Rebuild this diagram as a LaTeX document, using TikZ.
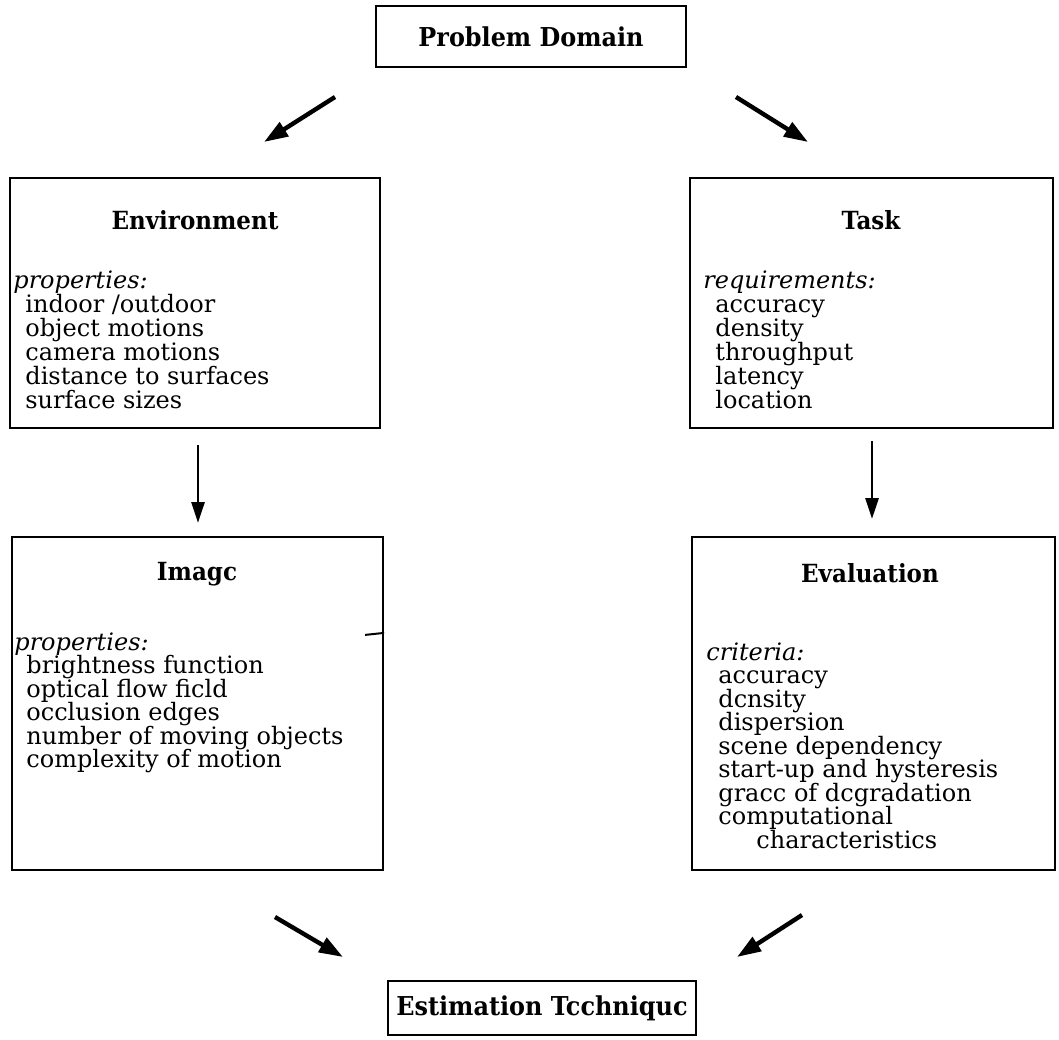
\documentclass[tikz,border=0pt]{standalone}
\usepackage{fontspec}
\setmainfont{DejaVu Serif}
\newfontfamily\headfont[FakeStretch=0.92]{DejaVu Serif}
\usetikzlibrary{arrows.meta,fit,calc}

\tikzset{
  box/.style={draw, line width=1.1pt, inner sep=0pt},
  boxtitle/.style={font=\headfont\bfseries\fontsize{12.5}{14}\selectfont, inner sep=0pt},
  headtitle/.style={font=\headfont\bfseries\fontsize{13}{15}\selectfont, inner sep=0pt},
  lbl/.style={font=\itshape\fontsize{12}{12}\selectfont, anchor=base west, inner sep=0pt},
  entry/.style={font=\fontsize{12}{12}\selectfont, anchor=base west, inner sep=0pt},
  flow/.style={line width=2.2pt, -{Triangle[length=12pt,width=8pt]}},
  drop/.style={line width=1.4pt, -{Triangle[length=10.5pt,width=6.5pt]}},
}

\begin{document}
\begin{tikzpicture}[x=0.5pt,y=-0.5pt]
  \fill[white] (0,0) rectangle (1059,1039);
  \useasboundingbox (0,0) rectangle (1059,1039);

  % top and bottom boxes
  \node[box, fit={(376,6) (686,67)}] (pd) {};
  \node[headtitle] (pd-t) at (531,37) {Problem Domain};
  \node[box, fit={(388,981) (696,1035)}] (est) {};
  \node[headtitle] (est-t) at (542,1008) {Estimation Tcchniquc};

  % Environment
  \node[box, fit={(10,178) (380,428)}] (env) {};
  \node[boxtitle] (env-t) at (195,220) {Environment};
  \node[lbl] (env-l) at (13,288) {properties:};
  \foreach \t [count=\i] in {indoor /outdoor, object motions, camera motions,
      distance to surfaces, surface sizes}
    \node[entry] (env-\i) at (25,{288+24*\i}) {\t};

  % Task
  \node[box, fit={(690,178) (1053,428)}] (task) {};
  \node[boxtitle] (task-t) at (871,220) {Task};
  \node[lbl] (task-l) at (703,288) {requirements:};
  \foreach \t [count=\i] in {accuracy, density, throughput, latency, location}
    \node[entry] (task-\i) at (715,{288+24*\i}) {\t};

  % Image
  \node[box, fit={(12,537) (383,870)}] (img) {};
  \node[boxtitle] (img-t) at (197,574) {Imagc};
  \node[lbl] (img-l) at (14,650) {properties:};
  \foreach \t [count=\i] in {brightness function, optical flow ficld, occlusion edges,
      number of moving objects, complexity of motion}
    \node[entry] (img-\i) at (26,{650+23.5*\i}) {\t};
  \draw[line width=1pt] ($(img.north east)+(-19,99)$) coordinate (tick-a)
    -- ($(img.north east)+(0,97)$) coordinate (tick-b);

  % Evaluation
  \node[box, fit={(692,537) (1055,870)}] (eval) {};
  \node[boxtitle] (eval-t) at (870,573) {Evaluation};
  \node[lbl] (eval-l) at (706,660) {criteria:};
  \foreach \t [count=\i] in {accuracy, dcnsity, dispersion, scene dependency,
      start-up and hysteresis, gracc of dcgradation, computational}
    \node[entry] (eval-\i) at (718,{660+23.5*\i}) {\t};
  \node[entry] (eval-8) at (756,848) {characteristics};

  % arrow end points
  \coordinate (a1s) at (335,97);  \coordinate (a1e) at (264,142);
  \coordinate (a2s) at (736,97);  \coordinate (a2e) at (808,142);
  \coordinate (a3s) at (198,445); \coordinate (a3e) at (198,523);
  \coordinate (a4s) at (872,441); \coordinate (a4e) at (872,519);
  \coordinate (a5s) at (275,917); \coordinate (a5e) at (343,957);
  \coordinate (a6s) at (802,915); \coordinate (a6e) at (737,957);

  \draw[flow] (a1s) -- (a1e);
  \draw[flow] (a2s) -- (a2e);
  \draw[drop] (a3s) -- (a3e);
  \draw[drop] (a4s) -- (a4e);
  \draw[flow] (a5s) -- (a5e);
  \draw[flow] (a6s) -- (a6e);
\end{tikzpicture}
\end{document}
